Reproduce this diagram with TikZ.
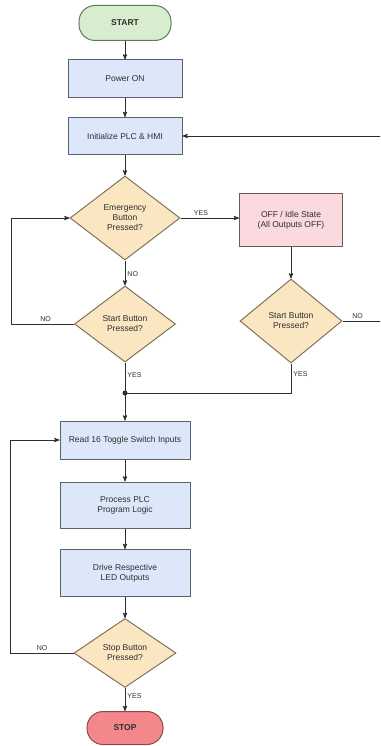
\documentclass[tikz,border=0pt]{standalone}
\usepackage{fontspec}
\setmainfont{Liberation Sans}
\usepackage{tikz}
\usetikzlibrary{arrows,shapes,shapes.geometric}

\definecolor{boxblue}{HTML}{DCE8FA}
\definecolor{boxline}{HTML}{59616E}
\definecolor{askfill}{HTML}{FBE6C2}
\definecolor{askline}{HTML}{7F735E}
\definecolor{gofill}{HTML}{D8EDCF}
\definecolor{goline}{HTML}{5F7A58}
\definecolor{idlefill}{HTML}{FADADF}
\definecolor{idleline}{HTML}{6E5A5C}
\definecolor{haltfill}{HTML}{F3878A}
\definecolor{haltline}{HTML}{8A4A4A}
\definecolor{ink}{HTML}{2E2E2E}

\begin{document}
\begin{tikzpicture}[>=stealth',font=\fontsize{8.5}{10}\selectfont,text=ink]
  \tikzstyle{process}=[rectangle,draw=boxline,fill=boxblue,line width=1pt,
        minimum width=130pt,align=center,inner sep=2pt]
  \tikzstyle{decision}=[diamond,draw=askline,fill=askfill,line width=1pt,
        inner sep=0pt,align=center]
  \tikzstyle{terminal}=[rectangle,rounded corners=16pt,line width=1pt,font=\fontsize{8.5}{10}\selectfont\bfseries]
  \tikzstyle{line}=[draw=ink,line width=0.9pt]
  \tikzstyle{tag}=[font=\fontsize{7}{8}\selectfont,inner sep=2pt]
  \clip (0pt,0pt) rectangle (380pt,-746pt);

  \node [terminal,draw=goline,fill=gofill,minimum width=92pt,minimum height=35pt] (start) at (125pt,-23pt) {START};
  \node [process,minimum width=114pt,minimum height=38pt] (power) [below of=start, node distance=56pt] {Power ON};
  \node [process,minimum width=114pt,minimum height=37pt] (init) [below of=power, node distance=57pt] {Initialize PLC \& HMI};
  \node [decision,minimum width=110pt,minimum height=84pt] (emerg) [below of=init, node distance=82pt] {Emergency\\Button\\Pressed?};
  \node [rectangle,draw=idleline,fill=idlefill,line width=1pt,minimum width=103pt,minimum height=53pt,align=center]
        (idle) [right of=emerg, node distance=166pt, yshift=-2pt] {OFF / Idle State\\(All Outputs OFF)};
  \node [decision,minimum width=101pt,minimum height=76pt] (start1) [below of=emerg, node distance=106pt] {Start Button\\Pressed?};
  \node [decision,minimum width=102pt,minimum height=84pt] (start2) [below of=idle, node distance=101pt] {Start Button\\Pressed?};
  \coordinate [below of=start1, node distance=69pt] (junc);
  \node [process,minimum height=38pt] (read) [below of=start1, node distance=116pt] {Read 16 Toggle Switch Inputs};
  \node [process,minimum height=46pt] (logic) [below of=read, node distance=65pt] {Process PLC\\Program Logic};
  \node [process,minimum height=47pt] (drive) [below of=logic, node distance=68pt] {Drive Respective\\LED Outputs};
  \node [decision,minimum width=102pt,minimum height=69pt] (stopq) [below of=drive, node distance=80pt] {Stop Button\\Pressed?};
  \node [terminal,draw=haltline,fill=haltfill,minimum width=76pt,minimum height=33pt] (stop) [below of=stopq, node distance=75pt] {STOP};

  \draw [line,->] (start) -- (power);
  \draw [line,->] (power) -- (init);
  \draw [line,->] (init) -- (emerg);
  \draw [line,->] (emerg.east) -- (emerg.east -| idle.west) node [tag,above,pos=0.35] {YES};
  \draw [line,->] (emerg) -- (start1) node [tag,right,pos=0.55] {NO};
  \draw [line,->] (start1.west) -- ++(-63pt,0) node [tag,above,pos=0.45] {NO} |- (emerg.west);
  \draw [line,->] (idle) -- (start2);
  \draw [line,->] (start2.east) -- ++(50pt,0) node [tag,above,pos=0.3] {NO} |- (init.east);
  \draw [line] (start1.south) -- (junc) node [tag,right,pos=0.4] {YES};
  \draw [line] (start2.south) |- (junc) node [tag,right,pos=0.18] {YES};
  \fill [ink] (junc) circle (2.5pt);
  \draw [line,->] (junc) -- (read);
  \draw [line,->] (read) -- (logic);
  \draw [line,->] (logic) -- (drive);
  \draw [line,->] (drive) -- (stopq);
  \draw [line,->] (stopq) -- (stop) node [tag,right,pos=0.35] {YES};
  \draw [line,->] (stopq.west) -- ++(-63pt,0) node [tag,above,pos=0.5] {NO} |- (read.west);
\end{tikzpicture}
\end{document}
